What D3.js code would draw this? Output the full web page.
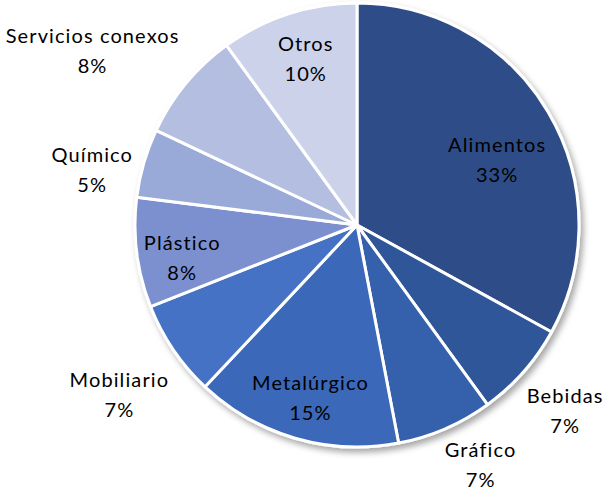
<!DOCTYPE html>
<html>
<head>
<meta charset="utf-8">
<script src="https://cdn.jsdelivr.net/npm/d3@7"></script>
<style>
  body { margin: 0; background: #fff; }
  .label { font-family: Lato, "Open Sans", sans-serif; font-size: 20px; fill: #000; letter-spacing: 1.1px; }
</style>
</head>
<body>
<svg id="chart" width="604" height="492"></svg>
<script>
// Data
const categories = ['Alimentos', 'Bebidas', 'Gráfico', 'Metalúrgico', 'Mobiliario', 'Plástico', 'Químico', 'Servicios conexos', 'Otros'];
const shares = [33, 7, 7, 15, 7, 8, 5, 8, 10];
const colors = ['#2E4D88', '#2F5699', '#3460AB', '#3A67B8', '#4472C4', '#7B90D0', '#99A9D8', '#B3BEE0', '#CCD2EA'];

// Label layout: distance from center as a fraction of radius, plus angle nudge (deg)
const labelLayout = {
  'Alimentos': { k: 0.70, da: 5 },
  'Bebidas': { k: 1.25, da: 0 },
  'Gráfico': { k: 1.21, da: -4 },
  'Metalúrgico': { k: 0.80, da: -1 },
  'Mobiliario': { k: 1.31, da: -1 },
  'Plástico': { k: 0.80, da: -3 },
  'Químico': { k: 1.22, da: -4 },
  'Servicios conexos': { k: 1.43, da: -6 },
  'Otros': { k: 0.79, da: 1 }
};

const svg = d3.select('#chart');
const cx = 357, cy = 225, radius = 222;

const data = categories.map((c, i) => ({ name: c, value: shares[i], color: colors[i] }));

// Drop shadow filter
const defs = svg.append('defs');
const filter = defs.append('filter').attr('id', 'shadow')
  .attr('x', '-20%').attr('y', '-20%').attr('width', '140%').attr('height', '140%');
filter.append('feDropShadow')
  .attr('dx', 3).attr('dy', 4)
  .attr('stdDeviation', 3)
  .attr('flood-color', '#000')
  .attr('flood-opacity', 0.35);

const pie = d3.pie().value(d => d.value).sort(null);
const arc = d3.arc().innerRadius(0).outerRadius(radius);
const arcs = pie(data);

const g = svg.append('g').attr('transform', `translate(${cx},${cy})`);

g.append('g')
  .attr('filter', 'url(#shadow)')
  .selectAll('path')
  .data(arcs)
  .enter()
  .append('path')
  .attr('d', arc)
  .attr('fill', d => d.data.color)
  .attr('stroke', '#fff')
  .attr('stroke-width', 3)
  .attr('stroke-linejoin', 'round');

// Labels
const labels = g.selectAll('.lbl')
  .data(arcs)
  .enter()
  .append('text')
  .attr('class', 'label')
  .attr('text-anchor', 'middle')
  .attr('transform', d => {
    const lay = labelLayout[d.data.name];
    const a = (d.startAngle + d.endAngle) / 2 + lay.da * Math.PI / 180;
    const r = radius * lay.k;
    const x = r * Math.sin(a);
    const y = -r * Math.cos(a);
    return `translate(${x},${y})`;
  });

labels.append('tspan')
  .attr('x', 0)
  .attr('y', -6)
  .text(d => d.data.name);

labels.append('tspan')
  .attr('x', 0)
  .attr('y', 24)
  .text(d => `${d.data.value}%`);
</script>
</body>
</html>
